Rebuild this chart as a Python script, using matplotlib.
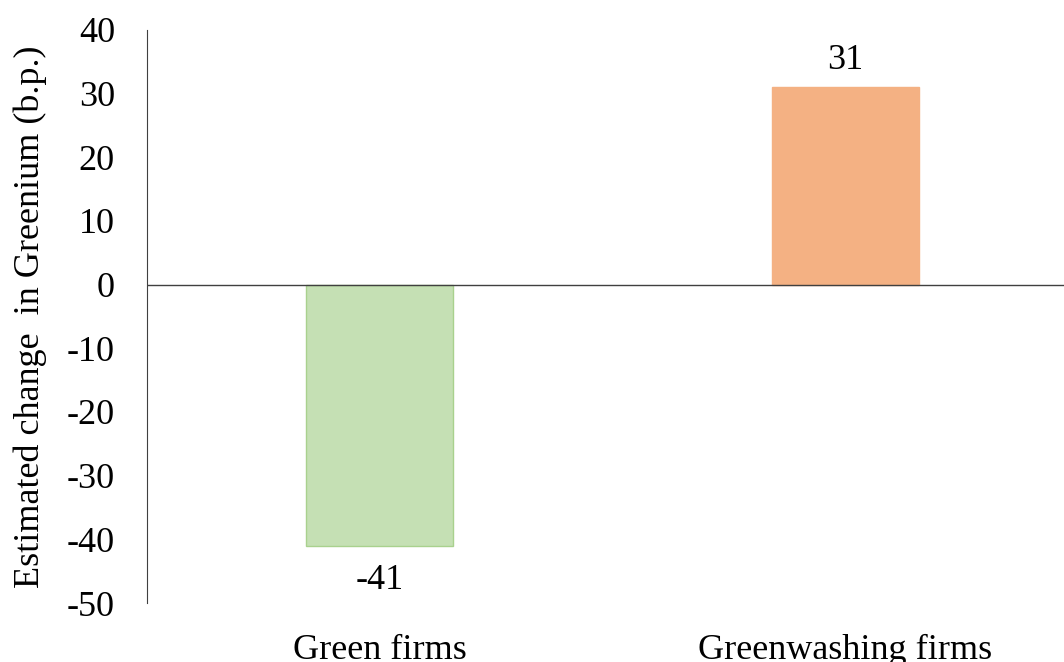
import matplotlib.pyplot as plt

plt.rcParams['font.family'] = ['Liberation Serif', 'DejaVu Serif']
plt.rcParams['axes.unicode_minus'] = False

# data
categories = ['Green firms', 'Greenwashing firms']
values = [-41, 31]
colors = ['#C5E0B4', '#F4B183']
edges = ['#A9D18E', '#F4B183']

fig = plt.figure(figsize=(10.64, 6.62), dpi=100)
ax = fig.add_axes([0.138, 0.089, 0.862, 0.866])

x = range(len(categories))
ax.bar(x, values, width=0.315, color=colors, edgecolor=edges, linewidth=1, zorder=2)
ax.axhline(0, color='#404040', linewidth=1, zorder=3)

for xi, v in zip(x, values):
    if v < 0:
        ax.text(xi, v - 2.8, str(v), ha='center', va='top', fontsize=26)
    else:
        ax.text(xi, v + 1.6, str(v), ha='center', va='bottom', fontsize=26)

ax.set_xlim(-0.5, 1.47)
ax.set_ylim(-50, 40)
ax.set_yticks(range(-50, 41, 10))
ax.set_xticks(list(x))
ax.set_xticklabels(categories)
ax.tick_params(axis='x', length=0, pad=22, labelsize=26)
ax.tick_params(axis='y', length=0, pad=23, labelsize=26)

for s in ['top', 'right', 'bottom']:
    ax.spines[s].set_visible(False)
ax.spines['left'].set_color('#404040')

ax.set_ylabel('Estimated change  in Greenium (b.p.)', fontsize=26, labelpad=14)

fig.savefig('out.png', dpi=100)
